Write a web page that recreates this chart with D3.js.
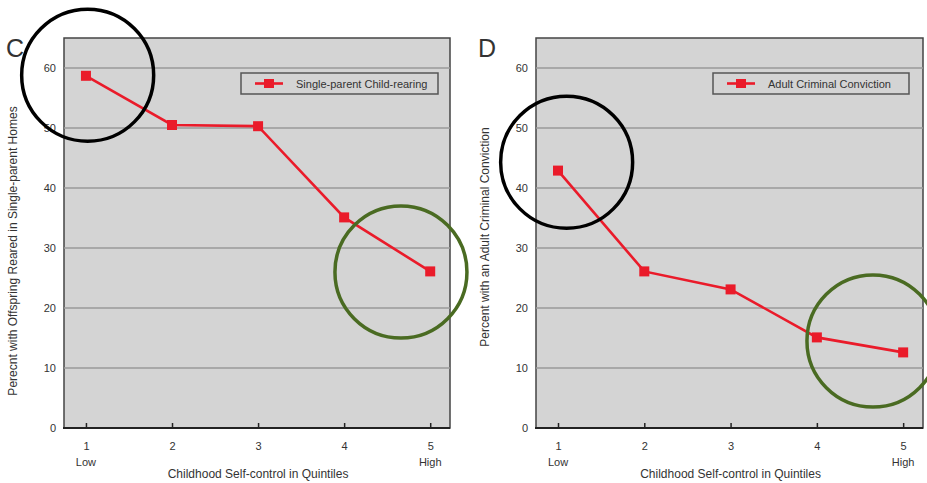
<!DOCTYPE html>
<html>
<head>
<meta charset="utf-8">
<script src="https://cdn.jsdelivr.net/npm/d3@7"></script>
<style>
  body { margin: 0; background: #fff; }
  text { font-family: "Liberation Sans", Arial, sans-serif; }
</style>
</head>
<body>
<div id="chart"></div>
<script>
const quintiles = [1, 2, 3, 4, 5];
const yTicks = [0, 10, 20, 30, 40, 50, 60];
const singleParent = [58.7, 50.5, 50.3, 35.1, 26.1];
const conviction = [42.9, 26.1, 23.1, 15.1, 12.6];

// highlight circles: [quintile, value] centres
const circlesC = [{ x: 1.02, y: 58.8, color: "#000" }, { x: 4.66, y: 26.0, color: "#4a6b22" }];
const circlesD = [{ x: 1.1, y: 44.3, color: "#000" }, { x: 4.65, y: 14.5, color: "#4a6b22" }];

const W = 927, H = 483;
const svg = d3.select("#chart").append("svg")
    .attr("width", W)
    .attr("height", H);

const panels = [
    { letter: "C", left: 64, right: 450, values: singleParent, legend: "Single-parent Child-rearing",
      ylab: "Perecnt with Offspring Reared in Single-parent Homes", ylabY: 251, legX: 241, legW: 197, circles: circlesC },
    { letter: "D", left: 536, right: 923, values: conviction, legend: "Adult Criminal Conviction",
      ylab: "Percent with an Adult Criminal Conviction", ylabY: 237, legX: 713, legW: 196, circles: circlesD }
];

const plotTop = 38, plotBottom = 428;

panels.forEach(function(p) {
    const g = svg.append("g");

    const x = d3.scaleLinear().domain([0.745, 5.23]).range([p.left, p.right]);
    const y = d3.scaleLinear().domain([0, 65]).range([plotBottom, plotTop]);

    g.append("rect")
        .attr("x", p.left).attr("y", plotTop)
        .attr("width", p.right - p.left).attr("height", plotBottom - plotTop)
        .style("fill", "#d4d4d4")
        .style("stroke", "#444")
        .style("stroke-width", 1.5);

    g.selectAll(".grid")
        .data(yTicks.filter(d => d > 0))
      .enter().append("line")
        .attr("x1", p.left).attr("x2", p.right)
        .attr("y1", d => y(d)).attr("y2", d => y(d))
        .style("stroke", "#9a9a9a")
        .style("stroke-width", 1.5);

    g.selectAll(".ylab")
        .data(yTicks)
      .enter().append("text")
        .attr("x", p.left - 8)
        .attr("y", d => y(d) + 4)
        .style("text-anchor", "end")
        .style("font-size", "11px")
        .style("fill", "#333")
        .text(d => d);

    // x axis with inward ticks
    const xAxis = g.append("g")
        .attr("transform", "translate(0," + plotBottom + ")")
        .call(d3.axisBottom(x).tickValues(quintiles).tickSize(-5).tickPadding(14).tickFormat(d3.format("d")));
    xAxis.select(".domain").remove();
    xAxis.selectAll(".tick line").style("stroke", "#222").style("stroke-width", 1.5);
    xAxis.selectAll(".tick text")
        .style("font-size", "11px")
        .style("fill", "#333")
        .style("font-family", "Liberation Sans, Arial, sans-serif");
    g.append("line")
        .attr("x1", p.left - 1).attr("x2", p.right)
        .attr("y1", plotBottom).attr("y2", plotBottom)
        .style("stroke", "#222")
        .style("stroke-width", 2);

    g.append("text").attr("x", x(1)).attr("y", 466)
        .style("text-anchor", "middle").style("font-size", "11px").style("fill", "#333").text("Low");
    g.append("text").attr("x", x(5)).attr("y", 466)
        .style("text-anchor", "middle").style("font-size", "11px").style("fill", "#333").text("High");
    g.append("text").attr("x", x(3)).attr("y", 478)
        .style("text-anchor", "middle").style("font-size", "12px").style("fill", "#333")
        .text("Childhood Self-control in Quintiles");

    g.append("text")
        .attr("transform", "translate(" + (p.left - 47) + "," + p.ylabY + ") rotate(-90)")
        .style("text-anchor", "middle").style("font-size", "12px").style("fill", "#333")
        .text(p.ylab);

    g.append("text")
        .attr("x", p.left - 58).attr("y", 57)
        .style("font-size", "25px").style("fill", "#333")
        .text(p.letter);

    const line = d3.line()
        .x((d, i) => x(quintiles[i]))
        .y(d => y(d));

    g.append("path")
        .datum(p.values)
        .attr("d", line)
        .style("fill", "none")
        .style("stroke", "#ea1b2a")
        .style("stroke-width", 2.6);

    g.selectAll(".pt")
        .data(p.values)
      .enter().append("rect")
        .attr("x", (d, i) => x(quintiles[i]) - 5)
        .attr("y", d => y(d) - 5)
        .attr("width", 10).attr("height", 10)
        .style("fill", "#ea1b2a");

    // legend
    const lg = g.append("g").attr("transform", "translate(" + p.legX + ",73)");
    lg.append("rect")
        .attr("width", p.legW).attr("height", 21)
        .style("fill", "none").style("stroke", "#555").style("stroke-width", 1.5);
    lg.append("line")
        .attr("x1", 14).attr("x2", 42).attr("y1", 10.5).attr("y2", 10.5)
        .style("stroke", "#ea1b2a").style("stroke-width", 2.6);
    lg.append("rect")
        .attr("x", 23).attr("y", 6).attr("width", 10).attr("height", 9)
        .style("fill", "#ea1b2a");
    lg.append("text")
        .attr("x", 55).attr("y", 14.5)
        .style("font-size", "11px").style("fill", "#333")
        .text(p.legend);

    g.selectAll(".hl")
        .data(p.circles)
      .enter().append("circle")
        .attr("cx", d => x(d.x))
        .attr("cy", d => y(d.y))
        .attr("r", 66)
        .style("fill", "none")
        .style("stroke", d => d.color)
        .style("stroke-width", 3.5);
});
</script>
</body>
</html>
